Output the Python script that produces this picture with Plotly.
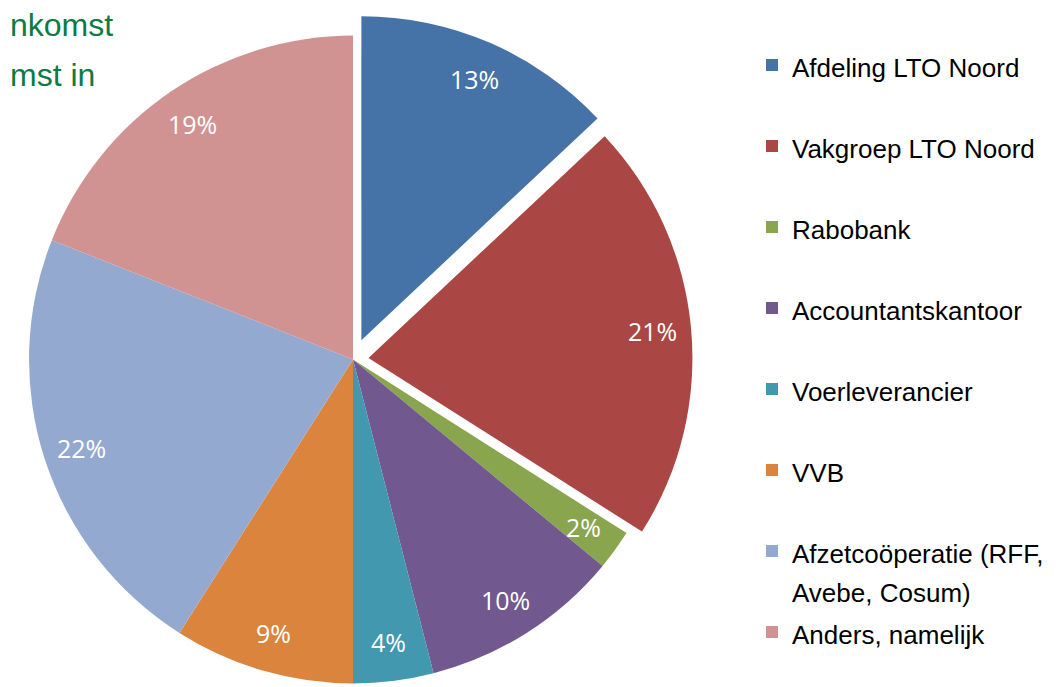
import math
import plotly.graph_objects as go

# ---- data ----
categories = ["Afdeling LTO Noord", "Vakgroep LTO Noord", "Rabobank", "Accountantskantoor",
              "Voerleverancier", "VVB", "Afzetcoöperatie (RFF, Avebe, Cosum)", "Anders, namelijk"]
legend_lines = [["Afdeling LTO Noord"], ["Vakgroep LTO Noord"], ["Rabobank"], ["Accountantskantoor"],
                ["Voerleverancier"], ["VVB"], ["Afzetcoöperatie (RFF,", "Avebe, Cosum)"], ["Anders, namelijk"]]
values = [13, 21, 2, 10, 4, 9, 22, 19]
pulls = [0.065, 0.048, 0, 0, 0, 0, 0, 0]
colors = ["#4572A7", "#AA4643", "#89A54E", "#71588F", "#4198AF", "#DB843D", "#93A9CF", "#D19392"]
title_lines = ["nkomst", "mst in"]

W, H = 1059, 700
FONT = "Liberation Sans, Arial, sans-serif"

# legend labels (extra blank line gives the wide spacing between entries)
def span(t):
    return '<span style="font-size:26px">' + t + '</span>'

labels = []
for lines in legend_lines:
    lab = "<br>".join(span(l) for l in lines)
    if len(lines) == 1:
        lab += "<br>\u00a0"
    labels.append(lab)

# pie geometry (pixels, figure coordinates)
cx_px, cy_px = 345, 351.5
box = 2 * cx_px
dom_x = [0, box / W]
dom_y = [1 - (cy_px + box / 2) / H, 1 - (cy_px - box / 2) / H]
max_pull = max(pulls)
half_y = 1 + max_pull
half_x = half_y * (dom_x[1] - dom_x[0]) * W / ((dom_y[1] - dom_y[0]) * H)

fig = go.Figure()
fig.add_trace(go.Pie(
    labels=labels, values=values, sort=False, direction="clockwise", rotation=0,
    pull=pulls, marker=dict(colors=colors, line=dict(width=0)),
    textinfo="none", hoverinfo="label+percent",
    domain=dict(x=dom_x, y=dom_y), showlegend=True,
))

# percent labels placed through a hidden cartesian scale matching the pie
total = sum(values)
cum = 0
lx, ly, lt = [], [], []
for v, p in zip(values, pulls):
    m = (cum + v / 2) / total
    cum += v
    th = 2 * math.pi * m
    r = 0.88 + p
    lx.append(r * math.sin(th))
    ly.append(r * math.cos(th))
    lt.append(f"{round(v / total * 100)}%")

fig.add_trace(go.Scatter(x=lx, y=ly, mode="none", showlegend=False, hoverinfo="skip"))

annotations = []
for x, y, t in zip(lx, ly, lt):
    annotations.append(dict(x=x, y=y, xref="x", yref="y", text=t, showarrow=False,
                            xanchor="center", yanchor="middle",
                            font=dict(family="Open Sans, sans-serif", size=25, color="white")))

# partially visible title fragment
title_y = [17, 67]
for t, yp in zip(title_lines, title_y):
    annotations.append(dict(x=0, y=1 - yp / H, xref="paper", yref="paper", text=t,
                            showarrow=False, xanchor="left", yanchor="middle",
                            font=dict(family=FONT, size=32, color="#0F7A44")))

fig.update_layout(
    width=W, height=H,
    margin=dict(l=0, r=0, t=0, b=0),
    paper_bgcolor="white", plot_bgcolor="rgba(0,0,0,0)",
    xaxis=dict(domain=dom_x, range=[-half_x, half_x], visible=False, fixedrange=True),
    yaxis=dict(domain=dom_y, range=[-half_y, half_y], visible=False, fixedrange=True),
    legend=dict(x=744 / W, y=1 - 31 / H, xanchor="left", yanchor="top",
                font=dict(family=FONT, size=30, color="black"),
                valign="top", bgcolor="rgba(0,0,0,0)"),
    annotations=annotations,
    showlegend=True,
)

fig.write_html("out.html")
